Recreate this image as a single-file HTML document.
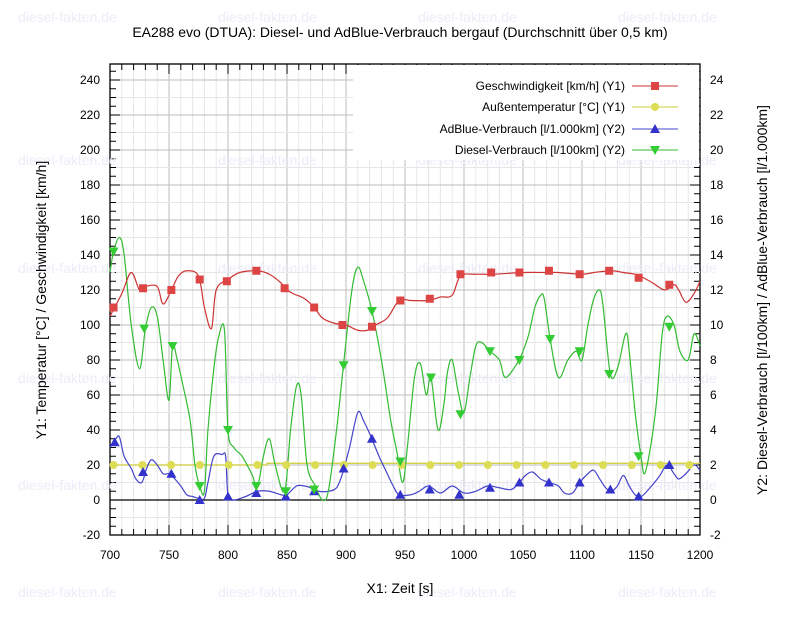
<!DOCTYPE html>
<html><head><meta charset="utf-8"><style>
html,body{margin:0;padding:0;background:#fff;}
svg{display:block;font-family:"Liberation Sans",Arial,sans-serif;}
.wm{fill:#ececf8;font-size:14px;}
</style></head><body>
<svg id="s" width="800" height="642" viewBox="0 0 800 642" xmlns="http://www.w3.org/2000/svg">
<g id="grid"></g>
<g class="wm">
<text x="18" y="22">diesel-fakten.de</text><text x="218" y="22">diesel-fakten.de</text><text x="418" y="22">diesel-fakten.de</text><text x="618" y="22">diesel-fakten.de</text>
<text x="18" y="165">diesel-fakten.de</text><text x="218" y="165">diesel-fakten.de</text><text x="418" y="165">diesel-fakten.de</text><text x="618" y="165">diesel-fakten.de</text>
<text x="18" y="273">diesel-fakten.de</text><text x="218" y="273">diesel-fakten.de</text><text x="418" y="273">diesel-fakten.de</text><text x="618" y="273">diesel-fakten.de</text>
<text x="18" y="383">diesel-fakten.de</text><text x="218" y="383">diesel-fakten.de</text><text x="418" y="383">diesel-fakten.de</text><text x="618" y="383">diesel-fakten.de</text>
<text x="18" y="490">diesel-fakten.de</text><text x="218" y="490">diesel-fakten.de</text><text x="418" y="490">diesel-fakten.de</text><text x="618" y="490">diesel-fakten.de</text>
<text x="18" y="597">diesel-fakten.de</text><text x="218" y="597">diesel-fakten.de</text><text x="418" y="597">diesel-fakten.de</text><text x="618" y="597">diesel-fakten.de</text>
</g>
<rect x="353" y="65" width="346" height="95" fill="#fff"/>
<g id="series"></g>
<g font-size="12" fill="#000">
<text x="400" y="37" text-anchor="middle" font-size="14">EA288 evo (DTUA): Diesel- und AdBlue-Verbrauch bergauf (Durchschnitt über 0,5 km)</text>
<text x="400" y="593" text-anchor="middle" font-size="14">X1: Zeit [s]</text>
<text transform="translate(46,300) rotate(-90)" text-anchor="middle" font-size="14">Y1: Temperatur [°C] / Geschwindigkeit [km/h]</text>
<text transform="translate(767,300) rotate(-90)" text-anchor="middle" font-size="14">Y2: Diesel-Verbrauch [l/100km] / AdBlue-Verbrauch [l/1.000km]</text>
<text x="625" y="90" text-anchor="end">Geschwindigkeit [km/h] (Y1)</text>
<text x="625" y="111" text-anchor="end">Außentemperatur [°C] (Y1)</text>
<text x="625" y="133" text-anchor="end">AdBlue-Verbrauch [l/1.000km] (Y2)</text>
<text x="625" y="154" text-anchor="end">Diesel-Verbrauch [l/100km] (Y2)</text>
</g>
<g id="labels" font-size="12"></g>
</svg>
<script>
const NS="http://www.w3.org/2000/svg";
const X=v=>110+(v-700)*1.18, Y=v=>500-v*1.75;
function el(p,t,a,txt){const e=document.createElementNS(NS,t);for(const k in a)e.setAttribute(k,a[k]);if(txt!==undefined)e.textContent=txt;p.appendChild(e);return e;}
const g=document.getElementById('grid'),L=document.getElementById('labels'),S=document.getElementById('series');
el(g,'rect',{x:110,y:64,width:590,height:471,fill:'#fff'});
for(let v=700;v<=1200;v+=10){const x=X(v);el(g,'line',{x1:x,x2:x,y1:64,y2:535,stroke:v%50?'#e6e6e6':'#bdbdbd','stroke-width':1});}
for(let v=-20;v<=248;v+=10){const y=Y(v);el(g,'line',{x1:110,x2:700,y1:y,y2:y,stroke:v%20?'#e6e6e6':'#bdbdbd'});}
el(g,'line',{x1:110,x2:700,y1:Y(0),y2:Y(0),stroke:'#000','stroke-width':1.3});
el(g,'rect',{x:110,y:64,width:590,height:471,fill:'none',stroke:'#000','stroke-width':1.3});
for(let v=700;v<=1200;v+=10){const x=X(v),len=v%50?6:10;el(g,'line',{x1:x,x2:x,y1:535,y2:535-len,stroke:'#000'});el(g,'line',{x1:x,x2:x,y1:64,y2:64+len,stroke:'#000'});}
for(let v=-20;v<=245;v+=5){const y=Y(v),len=v%20?6:10;el(g,'line',{x1:110,x2:110+len,y1:y,y2:y,stroke:'#000'});el(g,'line',{x1:700,x2:700-len,y1:y,y2:y,stroke:'#000'});}
for(let v=700;v<=1200;v+=50)el(L,'text',{x:X(v),y:559,'text-anchor':'middle'},v);
for(let v=-20;v<=240;v+=20){el(L,'text',{x:100,y:Y(v)+4,'text-anchor':'end'},v);el(L,'text',{x:710,y:Y(v)+4},v/10);}
function path(pts,col){pts=pts.map(p=>[X(p[0]),Y(p[1])]);let d='M'+pts[0][0]+','+pts[0][1];
for(let i=0;i<pts.length-1;i++){const p0=pts[i-1]||pts[i],p1=pts[i],p2=pts[i+1],p3=pts[i+2]||p2;
d+=`C${p1[0]+(p2[0]-p0[0])/6},${p1[1]+(p2[1]-p0[1])/6} ${p2[0]-(p3[0]-p1[0])/6},${p2[1]-(p3[1]-p1[1])/6} ${p2[0]},${p2[1]}`;}
el(S,'path',{d,fill:'none',stroke:col,'stroke-width':1.2});}
const P=s=>s.trim().split(/\s+/).map(t=>t.split(':').map(Number));
const red=P(`700:105 710:118 718:130 725:120 730:122 740:122 745:112 752:120 758:128 765:131 775:128 780:110 786:98 790:120 800:126 810:130 825:131 835:129 845:124 848:121 855:118 865:115 873:110 880:104 890:101 900:100 910:97 918:97 925:100 935:104 945:114 955:114 970:114 980:116 990:117 997:128 1010:129 1025:129 1050:130 1070:130 1080:130 1100:129 1110:130 1125:131 1135:130 1145:129 1152:127 1160:124 1170:120 1178:123 1182:120 1188:113 1195:118 1200:125`);
const green=P(`700:130 703:142 708:150 712:140 718:100 725:75 730:98 735:110 740:105 745:80 750:57 753:88 757:80 762:65 768:45 772:20 776:8 780:5 783:40 788:75 792:93 797:97 800:40 805:30 812:25 820:15 825:8 830:25 835:35 840:20 848:5 853:40 858:65 862:60 867:20 874:8 880:0 885:5 892:40 898:78 905:120 910:133 915:125 922:108 930:80 938:45 943:28 948:10 952:30 958:70 963:78 968:60 972:70 978:40 983:55 986:73 990:80 995:62 1000:50 1005:70 1010:88 1015:90 1022:85 1030:80 1035:70 1045:78 1050:85 1055:95 1060:110 1065:117 1068:115 1073:92 1080:70 1088:80 1095:85 1100:80 1105:100 1110:115 1115:120 1118:110 1124:72 1130:75 1137:95 1140:85 1145:50 1150:25 1153:15 1158:30 1163:55 1168:95 1172:105 1178:100 1183:85 1190:80 1195:95 1200:88`);
const blue=P(`700:30 705:35 708:36 712:25 718:18 722:12 727:10 731:18 735:23 740:20 745:15 750:15 755:12 760:8 765:3 770:2 775:1 780:1 783:10 788:25 795:26 798:25 800:3 805:0 815:2 825:5 835:5 845:3 850:3 858:8 865:8 870:7 877:5 885:5 892:7 897:15 903:30 910:50 915:45 920:38 928:25 935:15 940:8 945:3 955:3 962:5 970:8 980:4 990:8 1000:4 1010:5 1020:8 1030:7 1040:6 1047:10 1052:14 1058:16 1065:12 1072:10 1080:8 1085:4 1092:4 1098:10 1105:15 1110:17 1115:12 1120:7 1125:5 1130:8 1135:14 1140:8 1145:3 1150:2 1155:5 1165:13 1172:20 1178:15 1182:12 1188:15 1195:20 1200:17`);
el(S,'path',{d:`M${X(700)},${Y(20)}H${X(833)}V${Y(21)}H${X(1200)}`,fill:'none',stroke:'#cccc33','stroke-width':1.2});
path(blue,'#4444cc');path(green,'#33bb33');path(red,'#cc3333');
const yel='#dddd55',rc='#dd4444',bc='#3333cc',gc='#33cc33';
for(let i=0;i<21;i++){el(S,'circle',{cx:X(703+i*24.4),cy:Y(20),r:4,fill:yel});}
P(`704:33 728:16 752:15 776:0 800:2 824:4 849:2 873:5 898:18 922:35 946:3 971:6 996:3 1022:7 1047:10 1072:10 1098:10 1124:6 1148:2 1174:20`).forEach(p=>{const x=X(p[0]),y=Y(p[1]);el(S,'path',{d:`M${x-5},${y+4}L${x+5},${y+4}L${x},${y-5}Z`,fill:bc});});
P(`703:142 729:98 753:88 776:8 800:40 824:8 849:5 873:6 898:77 922:108 946:22 972:70 997:49 1022:85 1047:80 1073:92 1098:85 1123:72 1148:25 1174:99`).forEach(p=>{const x=X(p[0]),y=Y(p[1]);el(S,'path',{d:`M${x-5},${y-4}L${x+5},${y-4}L${x},${y+5}Z`,fill:gc});});
P(`703:110 728:121 752:120 776:126 799:125 824:131 848:121 873:110 897:100 922:99 946:114 971:115 997:129 1023:130 1047:130 1072:131 1098:129 1123:131 1148:127 1174:123`).forEach(p=>{el(S,'rect',{x:X(p[0])-4,y:Y(p[1])-4,width:8,height:8,fill:rc});});
const ly=[86,107,129,150];
el(S,'line',{x1:632,x2:678,y1:ly[0],y2:ly[0],stroke:'#cc3333'});el(S,'rect',{x:651,y:ly[0]-4,width:8,height:8,fill:rc});
el(S,'line',{x1:632,x2:678,y1:ly[1],y2:ly[1],stroke:'#cccc33'});el(S,'circle',{cx:655,cy:ly[1],r:4,fill:yel});
el(S,'line',{x1:632,x2:678,y1:ly[2],y2:ly[2],stroke:'#4444cc'});el(S,'path',{d:`M650,${ly[2]+4}L660,${ly[2]+4}L655,${ly[2]-5}Z`,fill:bc});
el(S,'line',{x1:632,x2:678,y1:ly[3],y2:ly[3],stroke:'#33bb33'});el(S,'path',{d:`M650,${ly[3]-4}L660,${ly[3]-4}L655,${ly[3]+5}Z`,fill:gc});
</script>
</body></html>
